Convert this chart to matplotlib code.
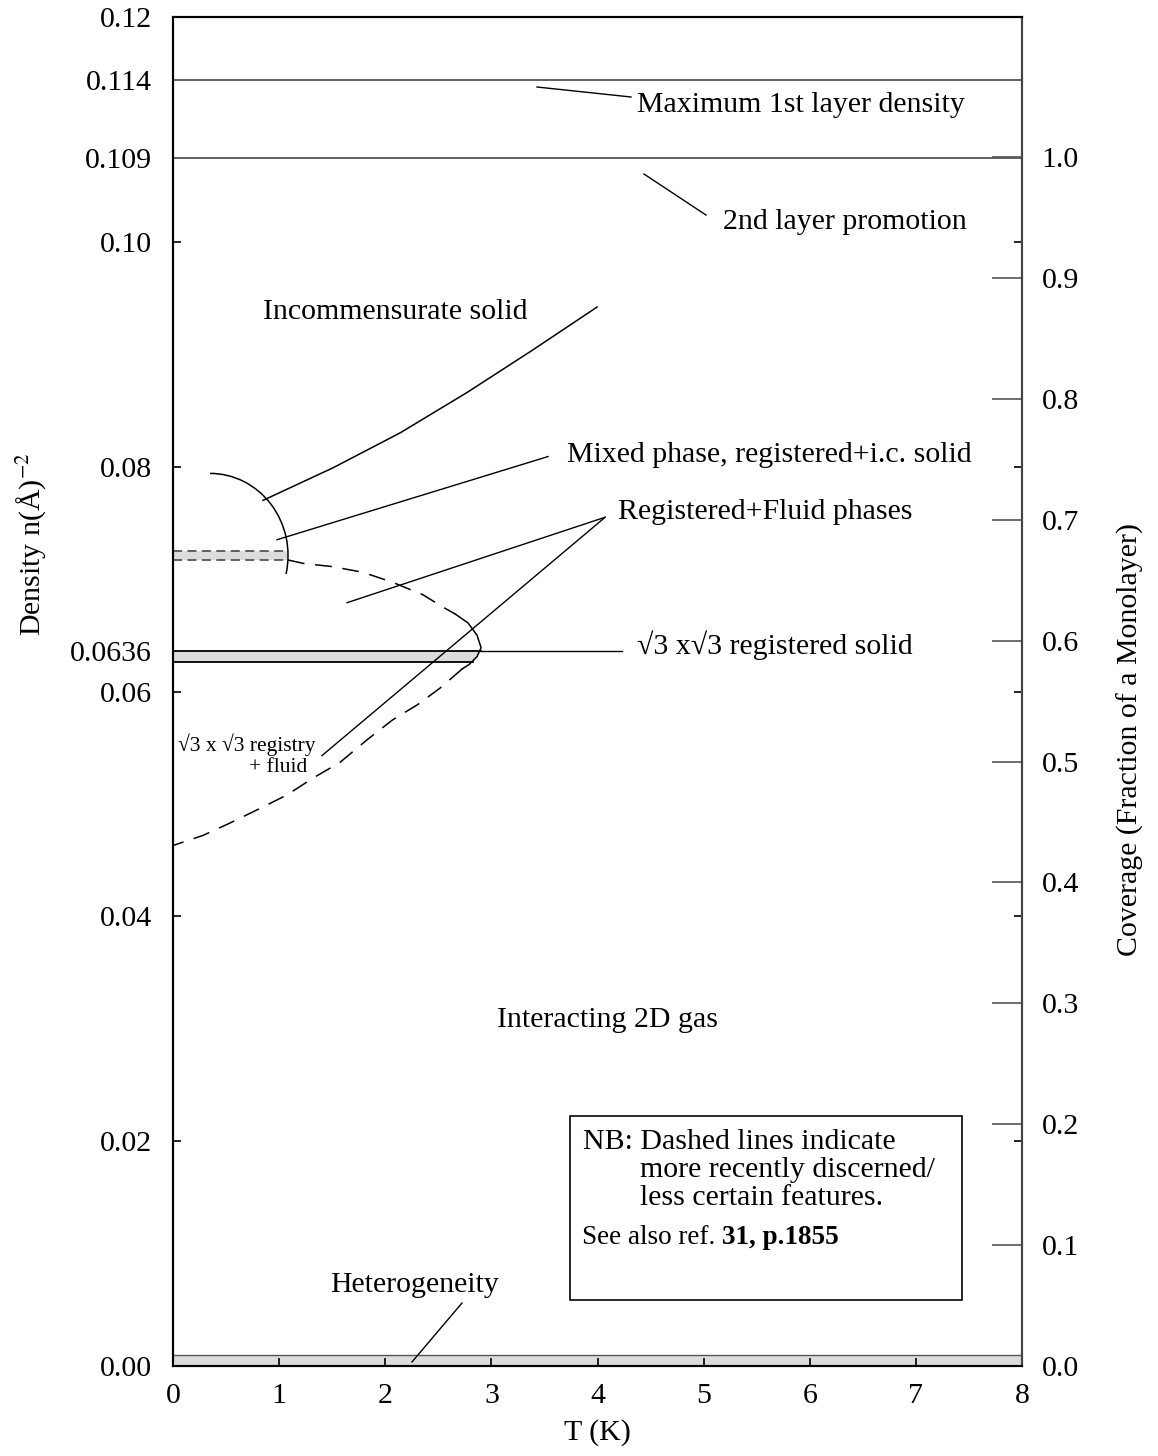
import numpy as np
import matplotlib.pyplot as plt
from matplotlib.patches import Arc, Polygon, Rectangle

plt.rcParams['font.family'] = ['Liberation Serif', 'DejaVu Serif']
plt.rcParams['mathtext.fontset'] = 'stix'
plt.rcParams['font.size'] = 21.5

# density axis is linear up to 0.10, the two layer limits sit slightly stretched
density_knots = [0.0, 0.10, 0.109, 0.114, 0.12]
position_knots = [0.0, 0.10, 0.1075, 0.1144, 0.12]


def to_pos(d):
    return np.interp(d, density_knots, position_knots)


def to_density(p):
    return np.interp(p, position_knots, density_knots)


# axes values
T_ticks = [0, 1, 2, 3, 4, 5, 6, 7, 8]
density_ticks = [0.0, 0.02, 0.04, 0.06, 0.08, 0.10, 0.12]
marked_densities = [0.0636, 0.109, 0.114]
marked_labels = ['0.0636', '0.109', '0.114']
coverage_ticks = [0.0, 0.1, 0.2, 0.3, 0.4, 0.5, 0.6, 0.7, 0.8, 0.9, 1.0]
COVERAGE_TOP = 1.116

# phase lines (T in K, density in 1/A^2)
max_first_layer = 0.114
second_layer = 0.109
registered_band = (0.0626, 0.0636)
registered_band_end = (2.83, 2.90)      # T at bottom / top edge
registered_leader_T = [2.90, 4.23]
mixed_band = (0.0717, 0.0725)
mixed_band_end = 1.07
heterogeneity_top = 0.001

# incommensurate solid boundary
ic_T = [0.848, 1.508, 2.139, 2.771, 3.393, 3.996]
ic_n = [0.0770, 0.0799, 0.0830, 0.0866, 0.0904, 0.0942]

# arc closing the mixed phase region
arc_centre = (0.349, 0.0721)
arc_semi = (0.735, 0.0073)
arc_span = (-13, 90)   # parametric angles, degrees

# registered / fluid coexistence boundary
upper_T = [1.084, 1.225, 1.508, 1.791, 2.073, 2.356, 2.545, 2.658]
upper_n = [0.0717, 0.0714, 0.0711, 0.0706, 0.0697, 0.0686, 0.0675, 0.0669]
tip_T = [2.658, 2.780, 2.865, 2.903, 2.865, 2.790, 2.724]
tip_n = [0.0669, 0.0661, 0.0650, 0.0639, 0.0631, 0.0624, 0.0620]
lower_T = [2.724, 2.516, 2.300, 2.073, 1.828, 1.574, 1.320, 1.074, 0.820, 0.537, 0.283, 0.0]
lower_n = [0.0620, 0.0603, 0.0588, 0.0575, 0.0557, 0.0537, 0.0523, 0.0508, 0.0496, 0.0483, 0.0472, 0.0463]

# label leader lines in data units
mixed_leader = ([0.980, 3.534], [0.0735, 0.0809])
fluid_leader_a = ([4.072, 1.640], [0.0755, 0.0679])
fluid_leader_b = ([4.072, 1.404], [0.0755, 0.0543])

BAND = '#dcdcdc'
GREY = '#555555'

fig = plt.figure(figsize=(11.58, 14.56), dpi=100)
ax = fig.add_axes([173 / 1158, 1 - 1366 / 1456, 849 / 1158, 1349 / 1456])
ax.set_yscale('function', functions=(to_pos, to_density))
ax.set_xlim(0, 8)
ax.set_ylim(0, 0.12)

cov = ax.twinx()
cov.set_ylim(0, COVERAGE_TOP)
cov.set_yticks(coverage_ticks, labels=[f'{c:.1f}' for c in coverage_ticks])
cov.tick_params(axis='y', direction='in', length=21.6, width=1.2, color=GREY, pad=14)

ax.set_xticks(T_ticks)
ax.set_yticks(density_ticks, labels=[f'{v:.2f}' for v in density_ticks])
ax.set_yticks(marked_densities, labels=marked_labels, minor=True)
ax.tick_params(axis='y', which='major', direction='in', length=6, width=1.2,
               left=True, right=True, labelright=False, pad=15)
ax.tick_params(axis='y', which='minor', length=0, pad=15)
ax.tick_params(axis='x', direction='in', length=6, width=1.2, pad=12)
for a in (ax, cov):
    for s in a.spines.values():
        s.set_linewidth(1.5)
    a.spines['right'].set_color('#444444')

# layer limits
ax.plot([0, 8], [max_first_layer] * 2, color=GREY, lw=1.3)
ax.plot([0, 8], [second_layer] * 2, color=GREY, lw=1.3)

# heterogeneity strip along the bottom
ax.axhspan(0, heterogeneity_top, color=BAND, lw=0)
ax.plot([0, 8], [heterogeneity_top] * 2, color=GREY, lw=1.0)

# mixed phase band (dashed edges)
ax.fill_between([0, mixed_band_end], mixed_band[0], mixed_band[1], color=BAND, lw=0)
for n in mixed_band:
    ax.plot([0, mixed_band_end], [n, n], color=GREY, lw=1.3, ls=(0, (5, 3)))

# registered solid band
lo, hi = registered_band
ax.add_patch(Polygon([(0, hi), (registered_band_end[1], hi),
                      (registered_band_end[0], lo), (0, lo)],
                     closed=True, facecolor=BAND, edgecolor='none'))
ax.plot([0, registered_band_end[1]], [hi, hi], color='black', lw=1.3)
ax.plot([0, registered_band_end[0]], [lo, lo], color='black', lw=1.3)
ax.plot(registered_leader_T, [hi, hi], color='black', lw=1.0)

# boundaries
ax.plot(ic_T, ic_n, color='black', lw=1.1)


def geometric_angle(phi):
    # Arc takes angles measured on the stretched ellipse
    phi = np.radians(phi)
    return np.degrees(np.arctan2(arc_semi[1] * np.sin(phi), arc_semi[0] * np.cos(phi)))


ax.add_patch(Arc(arc_centre, 2 * arc_semi[0], 2 * arc_semi[1],
                 theta1=geometric_angle(arc_span[0]), theta2=geometric_angle(arc_span[1]),
                 color='black', lw=1.1))

ax.plot(upper_T, upper_n, color='black', lw=1.1, ls=(0, (11, 7)))
ax.plot(tip_T, tip_n, color='black', lw=1.1)
ax.plot(lower_T, lower_n, color='black', lw=1.1, ls=(0, (11, 7)))

for xs, ys in (mixed_leader, fluid_leader_a, fluid_leader_b):
    ax.plot(xs, ys, color='black', lw=1.0)

# leaders given in axes fraction
for xs, ys in (([0.4287, 0.5395], [0.9481, 0.9407]),
               ([0.5548, 0.6278], [0.8836, 0.8532]),
               ([0.3404, 0.2815], [0.0467, 0.0030])):
    ax.plot(xs, ys, color='black', lw=1.0, transform=ax.transAxes)

labels = [
    ('Maximum 1st layer density', 0.5465, 0.9348),
    ('2nd layer promotion', 0.6478, 0.8481),
    ('Incommensurate solid', 0.1060, 0.7813),
    ('Mixed phase, registered+i.c. solid', 0.4641, 0.6753),
    ('Registered+Fluid phases', 0.5241, 0.6331),
    ('\u221a3 x\u221a3 registered solid', 0.5465, 0.5345),
    ('Interacting 2D gas', 0.3816, 0.2565),
    ('Heterogeneity', 0.1849, 0.0600),
]
for txt, fx, fy in labels:
    ax.text(fx, fy, txt, transform=ax.transAxes, ha='left', va='center')

ax.text(0.1673, 0.4603, '\u221a3 x \u221a3 registry', transform=ax.transAxes,
        ha='right', va='center', fontsize=15.5)
ax.text(0.1578, 0.4433, '+ fluid', transform=ax.transAxes,
        ha='right', va='center', fontsize=15.5)

# note box
ax.add_patch(Rectangle((0.4676, 0.0489), 0.4617, 0.1364, transform=ax.transAxes,
                       fill=False, edgecolor='black', lw=1.2))
ax.text(0.4829, 0.1660, 'NB: Dashed lines indicate', transform=ax.transAxes, va='center')
ax.text(0.5501, 0.1453, 'more recently discerned/', transform=ax.transAxes, va='center')
ax.text(0.5501, 0.1245, 'less certain features.', transform=ax.transAxes, va='center')
see = ax.text(0.4817, 0.0956, 'See also ref. ', transform=ax.transAxes,
              va='center', fontsize=19.5)
ax.annotate('31, p.1855', xy=(1, 0), xycoords=see, va='bottom', ha='left',
            fontsize=19.5, fontweight='bold')

fig.text(32 / 1158, 1 - 544 / 1456, 'Density n(\u00c5)$^{-2}$', rotation=90,
         ha='center', va='center')
fig.text(1130 / 1158, 1 - 740 / 1456, 'Coverage (Fraction of a Monolayer)', rotation=90,
         ha='center', va='center')
fig.text(597 / 1158, 1 - 1433 / 1456, 'T (K)', ha='center', va='center')

fig.savefig('out.png', dpi=100)
